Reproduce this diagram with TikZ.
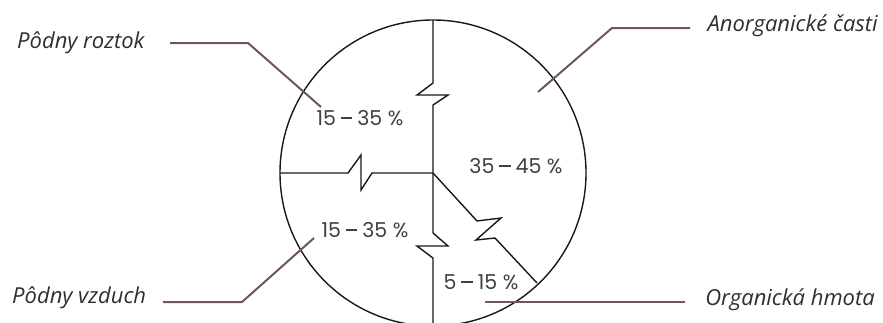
\documentclass[tikz,border=0pt]{standalone}
\usepackage{fontspec}
\setmainfont{Open Sans}
\newfontfamily\pctfont{Poppins}
\newcommand{\rangedash}{\hspace{0.24em}\rule[0.33em]{0.56em}{0.065em}\hspace{0.24em}}
\begin{document}
\begin{tikzpicture}[x=1pt,y=-1pt,
        divider/.style={line width=1.4pt, black!90, line join=miter},
        pointer/.style={line width=2pt, pointercolor},
        lbl/.style={font=\fontsize{22}{26}\selectfont\itshape, text=black!82, inner sep=0pt},
        pct/.style={font=\pctfont\fontsize{20.5}{25}\selectfont, text=black!75, inner sep=0pt}]
        % -- colour definitions --------------------------------------------------
        \definecolor{pointercolor}{RGB}{112,84,94}

        % -- canvas --------------------------------------------------------------
        \useasboundingbox (0,0) rectangle (883,322);
        \clip (0,0) rectangle (883,322);

        % -- soil circle ---------------------------------------------------------
        \coordinate (centre) at (433,173);
        \draw[divider] (centre) circle (153pt);

        % -- dividers between the parts (with break marks) -----------------------
        \draw[divider] (433,20) -- (433,83) -- (417,95) -- (448,95) -- (433,105) -- (centre);
        \draw[divider] (280,173) -- (348,173) -- (361,155) -- (361,190) -- (372,173) -- (centre);
        \draw[divider] (centre) -- (433,233) -- (448,246) -- (417,246) -- (433,258) -- (433,330);
        \draw[divider] (centre) -- (477,221) -- (501,218) -- (476,240) -- (495,238) -- (537,283);

        % -- shares --------------------------------------------------------------
        \node[pct] (roztokpct)   at (360,118) {15\rangedash 35 \%};
        \node[pct] (anorgpct)    at (516,166) {35\rangedash 45 \%};
        \node[pct] (vzduchpct)   at (365,230) {15\rangedash 35 \%};
        \node[pct] (orgpct)      at (481,282) {5\rangedash 15 \%};

        % -- labels --------------------------------------------------------------
        \node[lbl, anchor=west] (roztok) at (17,43)  {Pôdny roztok};
        \node[lbl, anchor=west] (vzduch) at (12,298) {Pôdny vzduch};
        \node[lbl, anchor=east] (anorg)  at (878,26) {Anorganické časti};
        \node[lbl, anchor=east] (org)    at (875,300) {Organická hmota};

        % -- pointers ------------------------------------------------------------
        \coordinate (roztokend) at (321,107);
        \coordinate (vzduchend) at (314,238);
        \coordinate (anorgend)  at (538,92);
        \coordinate (orgend)    at (485,302);
        \draw[pointer] (170,43)  -- (248,43)  -- (roztokend);
        \draw[pointer] (163,302) -- (242,302) -- (vzduchend);
        \draw[pointer] (690,28)  -- (612,28)  -- (anorgend);
        \draw[pointer] (685,302) -- (orgend);
    \end{tikzpicture}
\end{document}
